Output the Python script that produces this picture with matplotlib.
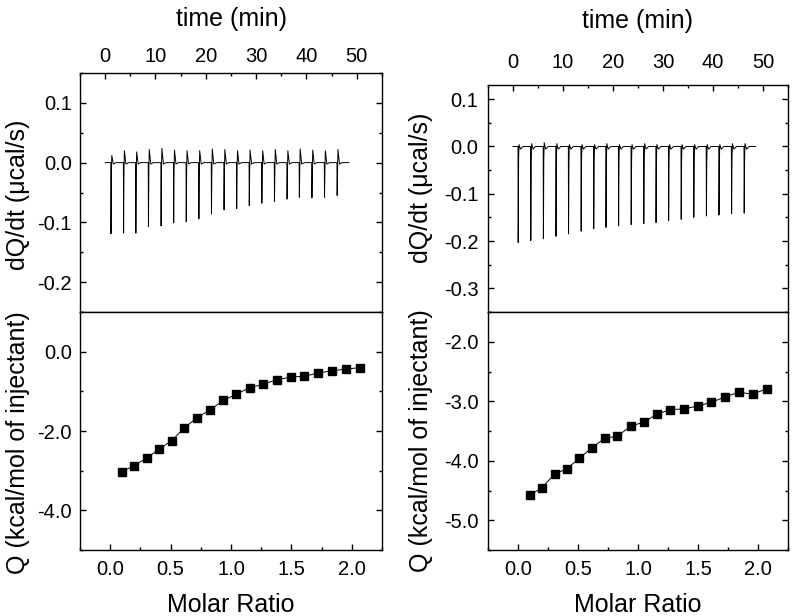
import matplotlib
matplotlib.use("Agg")
import matplotlib.pyplot as plt
from matplotlib.ticker import MultipleLocator, FormatStrFormatter

plt.rcParams['font.family'] = ['Liberation Sans', 'DejaVu Sans']
plt.rcParams['axes.unicode_minus'] = False

# ---- left experiment: raw heat (injection times, peak heights, overshoots)
left_inj_time = [1.12, 3.62, 6.06, 8.56, 11.07, 13.57, 16.07, 18.58, 21.08, 23.58,
                 26.09, 28.59, 31.09, 33.60, 36.10, 38.54, 41.04, 43.54, 46.05]
left_peak = [-0.119, -0.118, -0.118, -0.107, -0.106, -0.101, -0.099, -0.094, -0.086, -0.079,
             -0.077, -0.072, -0.068, -0.065, -0.061, -0.058, -0.059, -0.058, -0.055]
left_over = [0.012, 0.020, 0.018, 0.022, 0.024, 0.021, 0.020, 0.020, 0.023, 0.022,
             0.020, 0.021, 0.020, 0.022, 0.020, 0.023, 0.021, 0.020, 0.022]
left_trace_span = [0.0, 48.4]

# ---- left experiment: integrated heats
left_ratio = [0.096, 0.198, 0.303, 0.408, 0.510, 0.614, 0.722, 0.829, 0.937, 1.044,
              1.154, 1.267, 1.380, 1.493, 1.606, 1.722, 1.837, 1.953, 2.072]
left_heat = [-3.03, -2.87, -2.68, -2.45, -2.24, -1.92, -1.66, -1.46, -1.23, -1.07,
             -0.91, -0.82, -0.71, -0.64, -0.62, -0.54, -0.48, -0.44, -0.40]

# ---- right experiment: raw heat
right_inj_time = [1.00, 3.52, 6.04, 8.56, 11.07, 13.59, 16.11, 18.56, 21.08, 23.60,
                  26.12, 28.57, 31.09, 33.60, 36.12, 38.64, 41.16, 43.68, 46.20]
right_peak = [-0.203, -0.199, -0.195, -0.190, -0.185, -0.179, -0.174, -0.171, -0.168, -0.165,
              -0.163, -0.161, -0.157, -0.154, -0.150, -0.147, -0.145, -0.142, -0.141]
right_over = [0.004, 0.006, 0.008, 0.006, 0.004, 0.004, 0.004, 0.006, 0.004, 0.004,
              0.006, 0.004, 0.004, 0.004, 0.004, 0.004, 0.004, 0.006, 0.006]
right_trace_span = [0.0, 48.5]

# ---- right experiment: integrated heats
right_ratio = [0.099, 0.201, 0.306, 0.405, 0.510, 0.617, 0.725, 0.826, 0.939, 1.047,
               1.157, 1.267, 1.383, 1.496, 1.609, 1.722, 1.840, 1.956, 2.074]
right_heat = [-4.58, -4.45, -4.22, -4.14, -3.96, -3.78, -3.62, -3.59, -3.42, -3.35,
              -3.22, -3.14, -3.13, -3.08, -3.02, -2.93, -2.85, -2.88, -2.79]


def build_trace(span, inj_t, peaks, overs, tail):
    # baseline with one sharp exothermic spike per injection
    t = [span[0]]
    q = [0.0]
    for ti, p, u in zip(inj_t, peaks, overs):
        t += [ti, ti + 0.04, ti + 0.12, ti + 0.2, ti + 0.5, ti + 1.0]
        q += [0.0, p, tail, u, tail * 0.2, 0.0]
    t.append(span[1])
    q.append(0.0)
    return t, q


def style_axes(ax):
    for s in ax.spines.values():
        s.set_linewidth(1.0)
    ax.tick_params(which='both', direction='in', labelsize=14.5, width=1.0)
    ax.tick_params(which='major', length=4.5)
    ax.tick_params(which='minor', length=2.5)


fig = plt.figure(figsize=(7.94, 6.16), dpi=100)

W, H = 794.0, 616.0
panels = {
    'left': dict(x0=80, x1=382, ytop=73, tpad=5.0, ypad=5.8),
    'right': dict(x0=488, x1=788, ytop=85, tpad=9.4, ypad=7.0),
}
ydiv, ybot = 312, 550

experiments = {
    'left': dict(trace=build_trace(left_trace_span, left_inj_time, left_peak, left_over, -0.012),
                 ratio=left_ratio, heat=left_heat,
                 top_ylim=(-0.25, 0.15), bot_ylim=(-5.0, 1.0),
                 bot_major=2.0, bot_minor=1.0),
    'right': dict(trace=build_trace(right_trace_span, right_inj_time, right_peak, right_over, -0.028),
                  ratio=right_ratio, heat=right_heat,
                  top_ylim=(-0.35, 0.13), bot_ylim=(-5.5, -1.5),
                  bot_major=1.0, bot_minor=0.5),
}

ylabel_pos = {
    'left': dict(x=18, ytop=195, ybot=443),
    'right': dict(x=421, ytop=188, ybot=441),
}

for key in ['left', 'right']:
    p = panels[key]
    e = experiments[key]
    left = p['x0'] / W
    width = (p['x1'] - p['x0']) / W

    # top panel: raw thermogram
    ax1 = fig.add_axes([left, 1 - ydiv / H, width, (ydiv - p['ytop']) / H])
    t, q = e['trace']
    ax1.plot(t, q, color='black', lw=0.7)
    ax1.set_xlim(-5, 55)
    ax1.set_ylim(*e['top_ylim'])
    ax1.xaxis.set_major_locator(MultipleLocator(10))
    ax1.xaxis.set_minor_locator(MultipleLocator(5))
    ax1.yaxis.set_major_locator(MultipleLocator(0.1))
    ax1.yaxis.set_minor_locator(MultipleLocator(0.05))
    ax1.yaxis.set_major_formatter(FormatStrFormatter('%.1f'))
    style_axes(ax1)
    ax1.tick_params(axis='x', which='both', top=True, bottom=False,
                    labeltop=True, labelbottom=False, pad=p['tpad'])
    ax1.tick_params(axis='y', which='both', left=True, right=True, pad=p['ypad'])

    # bottom panel: integrated heats
    ax2 = fig.add_axes([left, 1 - ybot / H, width, (ybot - ydiv) / H])
    ax2.plot(e['ratio'], e['heat'], color='black', lw=0.7, marker='s',
             ms=5.5, mfc='black', mec='black')
    ax2.set_xlim(-0.25, 2.25)
    ax2.set_ylim(*e['bot_ylim'])
    ax2.xaxis.set_major_locator(MultipleLocator(0.5))
    ax2.xaxis.set_minor_locator(MultipleLocator(0.25))
    ax2.xaxis.set_major_formatter(FormatStrFormatter('%.1f'))
    ax2.yaxis.set_major_locator(MultipleLocator(e['bot_major']))
    ax2.yaxis.set_minor_locator(MultipleLocator(e['bot_minor']))
    ax2.yaxis.set_major_formatter(FormatStrFormatter('%.1f'))
    style_axes(ax2)
    ax2.tick_params(axis='x', which='both', top=False, bottom=True, pad=7)
    ax2.tick_params(axis='y', which='both', left=True, right=True, pad=p['ypad'])
    ax2.set_xlabel('Molar Ratio', fontsize=18, labelpad=10)

    # titles / axis labels
    cx = (p['x0'] + p['x1']) / 2 / W
    fig.text(cx, 1 - (19 if key == 'left' else 21) / H, 'time (min)',
             ha='center', va='center', fontsize=18)
    lp = ylabel_pos[key]
    fig.text(lp['x'] / W, 1 - lp['ytop'] / H, 'dQ/dt (μcal/s)', rotation=90,
             ha='center', va='center', fontsize=18)
    fig.text(lp['x'] / W, 1 - lp['ybot'] / H, 'Q (kcal/mol of injectant)', rotation=90,
             ha='center', va='center', fontsize=18)

fig.savefig('out.png', dpi=100)
